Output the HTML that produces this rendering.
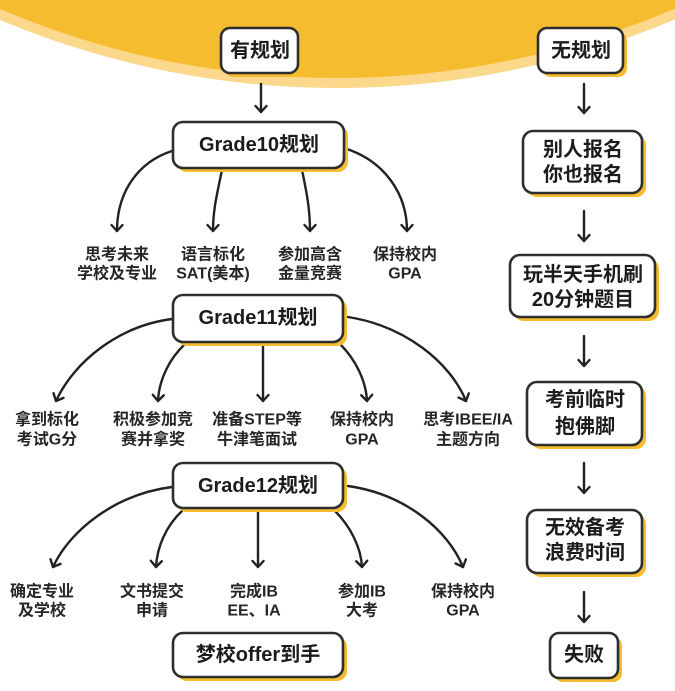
<!DOCTYPE html>
<html><head><meta charset="utf-8">
<style>
html,body{margin:0;padding:0;background:#fff;}
svg{display:block;}
text{font-family:"Liberation Sans","Noto Sans CJK SC",sans-serif;fill:#1c1c1c;}
.b{font-size:20px;font-weight:600;}
.l{font-size:16px;font-weight:700;fill:#262626;}
</style></head><body>
<svg width="675" height="691" viewBox="0 0 675 691" xmlns="http://www.w3.org/2000/svg">
<defs>
<marker id="ah" markerUnits="userSpaceOnUse" markerWidth="20" markerHeight="20" refX="0" refY="0" viewBox="-10 -10 20 20" orient="auto" overflow="visible">
<path d="M-6,-5.5 L0,0 L-6,5.5" fill="none" stroke="#222" stroke-width="2.4" stroke-linecap="round" stroke-linejoin="round"/>
</marker>
</defs>
<!-- top arc -->
<circle cx="337" cy="-779" r="867" fill="#FBD88B"/>
<circle cx="337" cy="-779" r="857" fill="#F5BC2F"/>

<g fill="none" stroke="#222" stroke-width="2.4" stroke-linecap="round" marker-end="url(#ah)">
<path d="M261,84 L261,112"/>
<path d="M584,84 L584,113"/>
<path d="M584,211 L584,241"/>
<path d="M584,336 L584,366"/>
<path d="M584,463 L584,493"/>
<path d="M584,592 L584,622"/>
<!-- Grade10 -->
<path d="M172,151 C138,162 117,192 117,231"/>
<path d="M222,170 C217,194 213,210 213,231"/>
<path d="M302,170 C307,194 310,210 310,231"/>
<path d="M347,149 C385,162 407,194 407,231"/>
<!-- Grade11 -->
<path d="M172,319 C118,326 74,362 56,401"/>
<path d="M185,344 C169,359 159,380 158,401"/>
<path d="M263,344 L263,401"/>
<path d="M340,344 C355,359 366,380 367,401"/>
<path d="M348,317 C405,326 450,362 466,401"/>
<!-- Grade12 -->
<path d="M172,487 C116,494 70,530 53,567"/>
<path d="M182,511 C166,526 157,547 156,567"/>
<path d="M258,511 L258,567"/>
<path d="M335,511 C350,526 361,547 362,567"/>
<path d="M348,486 C405,494 448,530 463,567"/>
</g>

<g>
<rect x="225" y="32" width="77" height="45" rx="9" fill="#F5BC2F"/>
<rect x="221" y="28" width="77" height="45" rx="9" fill="#fff" stroke="#2e2e2e" stroke-width="2.6"/>
<rect x="177" y="126" width="171" height="46" rx="10" fill="#F5BC2F"/>
<rect x="173" y="122" width="171" height="46" rx="10" fill="#fff" stroke="#2e2e2e" stroke-width="2.6"/>
<rect x="177" y="299" width="170" height="47" rx="10" fill="#F5BC2F"/>
<rect x="173" y="295" width="170" height="47" rx="10" fill="#fff" stroke="#2e2e2e" stroke-width="2.6"/>
<rect x="177" y="467" width="170" height="45" rx="10" fill="#F5BC2F"/>
<rect x="173" y="463" width="170" height="45" rx="10" fill="#fff" stroke="#2e2e2e" stroke-width="2.6"/>
<rect x="177" y="637" width="170" height="44" rx="10" fill="#F5BC2F"/>
<rect x="173" y="633" width="170" height="44" rx="10" fill="#fff" stroke="#2e2e2e" stroke-width="2.6"/>

<rect x="542" y="32" width="85" height="45" rx="9" fill="#F5BC2F"/>
<rect x="538" y="28" width="85" height="45" rx="9" fill="#fff" stroke="#2e2e2e" stroke-width="2.6"/>
<rect x="527" y="135" width="119" height="62" rx="10" fill="#F5BC2F"/>
<rect x="523" y="131" width="119" height="62" rx="10" fill="#fff" stroke="#2e2e2e" stroke-width="2.6"/>
<rect x="514" y="259" width="145" height="62" rx="10" fill="#F5BC2F"/>
<rect x="510" y="255" width="145" height="62" rx="10" fill="#fff" stroke="#2e2e2e" stroke-width="2.6"/>
<rect x="531" y="386" width="115" height="63" rx="10" fill="#F5BC2F"/>
<rect x="527" y="382" width="115" height="63" rx="10" fill="#fff" stroke="#2e2e2e" stroke-width="2.6"/>
<rect x="531" y="514" width="115" height="63" rx="10" fill="#F5BC2F"/>
<rect x="527" y="510" width="115" height="63" rx="10" fill="#fff" stroke="#2e2e2e" stroke-width="2.6"/>
<rect x="554" y="637" width="68" height="45" rx="9" fill="#F5BC2F"/>
<rect x="550" y="633" width="68" height="45" rx="9" fill="#fff" stroke="#2e2e2e" stroke-width="2.6"/>
</g>

<g text-anchor="middle" dominant-baseline="central">
<text class="b" x="260" y="51">有规划</text>
<text class="b" x="259" y="145">Grade10规划</text>
<text class="b" x="258" y="318">Grade11规划</text>
<text class="b" x="258" y="486">Grade12规划</text>
<text class="b" x="258" y="655">梦校offer到手</text>
<text class="b" x="581" y="51">无规划</text>
<text class="b" x="583" y="150">别人报名</text>
<text class="b" x="583" y="175">你也报名</text>
<text class="b" x="583" y="275">玩半天手机刷</text>
<text class="b" x="583" y="300">20分钟题目</text>
<text class="b" x="585" y="400">考前临时</text>
<text class="b" x="585" y="427">抱佛脚</text>
<text class="b" x="585" y="528">无效备考</text>
<text class="b" x="585" y="553">浪费时间</text>
<text class="b" x="584" y="655">失败</text>
</g>

<g text-anchor="middle" dominant-baseline="central">
<text class="l" x="117" y="255">思考未来</text>
<text class="l" x="117" y="274">学校及专业</text>
<text class="l" x="213" y="255">语言标化</text>
<text class="l" x="213" y="274">SAT(美本)</text>
<text class="l" x="310" y="255">参加高含</text>
<text class="l" x="310" y="274">金量竞赛</text>
<text class="l" x="405" y="255">保持校内</text>
<text class="l" x="405" y="274">GPA</text>

<text class="l" x="47" y="420">拿到标化</text>
<text class="l" x="47" y="440">考试G分</text>
<text class="l" x="153" y="420">积极参加竞</text>
<text class="l" x="153" y="440">赛并拿奖</text>
<text class="l" x="257" y="420">准备STEP等</text>
<text class="l" x="257" y="440">牛津笔面试</text>
<text class="l" x="362" y="420">保持校内</text>
<text class="l" x="362" y="440">GPA</text>
<text class="l" x="468" y="420">思考IBEE/IA</text>
<text class="l" x="468" y="440">主题方向</text>

<text class="l" x="42" y="592">确定专业</text>
<text class="l" x="42" y="611">及学校</text>
<text class="l" x="152" y="592">文书提交</text>
<text class="l" x="152" y="611">申请</text>
<text class="l" x="254" y="592">完成IB</text>
<text class="l" x="254" y="611">EE、IA</text>
<text class="l" x="362" y="592">参加IB</text>
<text class="l" x="362" y="611">大考</text>
<text class="l" x="463" y="592">保持校内</text>
<text class="l" x="463" y="611">GPA</text>
</g>
</svg>
</body></html>
